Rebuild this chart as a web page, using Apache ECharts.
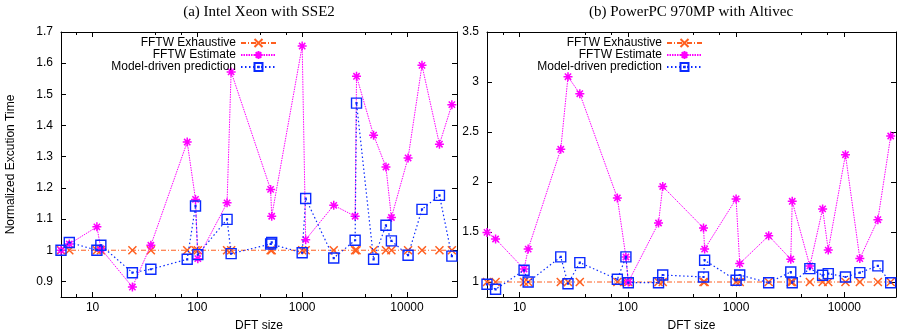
<!DOCTYPE html>
<html>
<head>
<meta charset="utf-8">
<script src="https://cdn.jsdelivr.net/npm/echarts@6/dist/echarts.min.js"></script>
<style>
  html, body { margin: 0; padding: 0; background: #fff; }
  #chart { width: 897px; height: 333px; }
</style>
</head>
<body>
<div id="chart"></div>
<script>
// (a) Intel Xeon with SSE2
const sizesA = [5, 6, 11, 12, 24, 36, 80, 96, 101, 192, 210, 500, 512, 1000, 1080, 2000, 3200, 3300, 4800, 6300, 7100, 10240, 13900, 20400, 26800];
const exhaustiveA = [1, 1, 1, 1, 1, 1, 1, 1, 1, 1, 1, 1, 1, 1, 1, 1, 1, 1, 1, 1, 1, 1, 1, 1, 1];
const estimateA = [1.0, 1.02, 1.075, 1.005, 0.882, 1.016, 1.347, 1.163, 0.973, 1.152, 1.572, 1.195, 1.109, 1.655, 1.034, 1.144, 1.109, 1.558, 1.369, 1.267, 1.105, 1.296, 1.593, 1.34, 1.467];
const modelA = [1.0, 1.025, 1.0, 1.016, 0.928, 0.939, 0.971, 1.142, 0.986, 1.099, 0.989, 1.02, 1.025, 0.992, 1.166, 0.975, 1.032, 1.472, 0.971, 1.08, 1.03, 0.984, 1.131, 1.176, 0.981];

// (b) PowerPC 970MP with Altivec
const sizesB = [5, 6, 11, 12, 24, 28, 36, 80, 96, 101, 192, 210, 500, 512, 1000, 1080, 2000, 3200, 3300, 4800, 6300, 7100, 10240, 13900, 20400, 26800];
const exhaustiveB = [1, 1, 1, 1, 1, 1, 1, 1, 1, 1, 1, 1, 1, 1, 1, 1, 1, 1, 1, 1, 1, 1, 1, 1, 1, 1];
const estimateB = [1.496, 1.43, 1.13, 1.329, 2.327, 3.053, 2.883, 1.841, 1.25, 1.0, 1.59, 1.955, 1.54, 1.329, 1.831, 1.184, 1.462, 1.228, 1.807, 1.161, 1.731, 1.319, 2.273, 1.234, 1.623, 2.46];
const modelB = [0.977, 0.927, 1.117, 1.0, 1.251, 0.983, 1.194, 1.027, 1.251, 0.993, 0.993, 1.07, 1.05, 1.218, 1.017, 1.07, 0.993, 1.10, 0.993, 1.134, 1.067, 1.084, 1.05, 1.094, 1.161, 0.993];

const seriesNames = ['FFTW Exhaustive', 'FFTW Estimate', 'Model-driven prediction'];

const ORANGE = '#ff5f1f';
const MAGENTA = '#ff00ff';
const BLUE = '#0a2aff';
const SANS = 'Liberation Sans, Arial, sans-serif';
const SERIF = 'Liberation Serif, Times New Roman, serif';

const symX = 'path://M0,0L10,10M10,0L0,10';
const symStar = 'path://M0,5L10,5M5,0L5,10M1.5,1.5L8.5,8.5M8.5,1.5L1.5,8.5';
const symBox = 'path://M0,0L10,0L10,10L0,10Z M4.6,4.6L5.4,4.6L5.4,5.4L4.6,5.4Z';

const pairs = (xs, ys) => xs.map((x, i) => [x, ys[i]]);

const chart = echarts.init(document.getElementById('chart'));

const makeXAxis = (gridIndex, top) => ({
  type: 'log',
  logBase: 10,
  gridIndex,
  position: top ? 'top' : 'bottom',
  min: 5,
  max: 30000,
  name: top ? '' : 'DFT size',
  nameLocation: 'middle',
  nameGap: 23,
  nameTextStyle: { fontFamily: SANS, fontSize: 12, color: '#000' },
  axisLine: { show: true, lineStyle: { color: '#000', width: 1 } },
  axisTick: { show: true, inside: true, length: 5, lineStyle: { color: '#000' } },
  minorTick: { show: true, splitNumber: 3, length: 3, lineStyle: { color: '#000' } },
  axisLabel: {
    show: !top,
    fontFamily: SANS,
    fontSize: 12,
    color: '#000',
    margin: 5,
    showMinLabel: false,
    showMaxLabel: false,
    formatter: v => String(Math.round(v))
  },
  splitLine: { show: false },
  minorSplitLine: { show: false }
});

const makeYAxis = (gridIndex, right, min, max, splitNumber, name) => ({
  type: 'value',
  gridIndex,
  position: right ? 'right' : 'left',
  min,
  max,
  splitNumber,
  name: right ? '' : name,
  nameLocation: 'middle',
  nameRotate: 90,
  nameGap: 44,
  nameTextStyle: { fontFamily: SANS, fontSize: 12, color: '#000' },
  axisLine: { show: true, lineStyle: { color: '#000', width: 1 } },
  axisTick: { show: true, inside: true, length: 5, lineStyle: { color: '#000' } },
  axisLabel: {
    show: !right,
    fontFamily: SANS,
    fontSize: 12,
    color: '#000',
    margin: 8,
    showMinLabel: false
  },
  splitLine: { show: false }
});

const makeSeries = (xIdx, yIdx, sizes, exh, est, mod) => [
  {
    name: seriesNames[0],
    type: 'line',
    xAxisIndex: xIdx,
    yAxisIndex: yIdx,
    data: pairs(sizes, exh),
    symbol: symX,
    symbolSize: 8,
    clip: false,
    lineStyle: { color: ORANGE, width: 1, type: [5, 2, 1, 2] },
    itemStyle: { color: 'rgba(0,0,0,0)', borderColor: ORANGE, borderWidth: 1.5 },
    emphasis: { disabled: true },
    z: 2
  },
  {
    name: seriesNames[1],
    type: 'line',
    xAxisIndex: xIdx,
    yAxisIndex: yIdx,
    data: pairs(sizes, est),
    symbol: symStar,
    symbolSize: 9,
    clip: false,
    lineStyle: { color: MAGENTA, width: 1, type: [1.5, 1] },
    itemStyle: { color: 'rgba(0,0,0,0)', borderColor: MAGENTA, borderWidth: 1.5 },
    emphasis: { disabled: true },
    z: 3
  },
  {
    name: seriesNames[2],
    type: 'line',
    xAxisIndex: xIdx,
    yAxisIndex: yIdx,
    data: pairs(sizes, mod),
    symbol: symBox,
    symbolSize: 10,
    clip: false,
    lineStyle: { color: BLUE, width: 1.2, type: [1.5, 2.5] },
    itemStyle: { color: 'rgba(0,0,0,0)', borderColor: BLUE, borderWidth: 1.4 },
    emphasis: { disabled: true },
    z: 4
  }
];

const makeLegends = (right) => seriesNames.map((n, i) => ({
  data: [n],
  orient: 'vertical',
  align: 'right',
  right,
  top: 37 + i * 12,
  padding: 0,
  itemWidth: 35,
  itemHeight: 10,
  selectedMode: false,
  textStyle: { fontFamily: SANS, fontSize: 12, color: '#000' }
}));

chart.setOption({
  animation: false,
  backgroundColor: '#fff',
  title: [
    {
      text: '(a) Intel Xeon with SSE2',
      left: 259, top: 5, padding: 0, textAlign: 'center',
      textStyle: { fontFamily: SERIF, fontSize: 15, fontWeight: 'normal', color: '#000' }
    },
    {
      text: '(b) PowerPC 970MP with Altivec',
      left: 691, top: 5, padding: 0, textAlign: 'center',
      textStyle: { fontFamily: SERIF, fontSize: 15, fontWeight: 'normal', color: '#000' }
    }
  ],
  legend: [...makeLegends(620), ...makeLegends(194)],
  grid: [
    { left: 61, top: 32, width: 396, height: 265, outerBoundsMode: 'none', containLabel: false },
    { left: 487, top: 32, width: 409, height: 265, outerBoundsMode: 'none', containLabel: false }
  ],
  xAxis: [
    makeXAxis(0, false), makeXAxis(0, true),
    makeXAxis(1, false), makeXAxis(1, true)
  ],
  yAxis: [
    makeYAxis(0, false, 0.85, 1.7, 8, 'Normalized Excution Time'),
    makeYAxis(0, true, 0.85, 1.7, 8, ''),
    makeYAxis(1, false, 0.85, 3.5, 5, ''),
    makeYAxis(1, true, 0.85, 3.5, 5, '')
  ],
  series: [
    ...makeSeries(0, 0, sizesA, exhaustiveA, estimateA, modelA),
    ...makeSeries(2, 2, sizesB, exhaustiveB, estimateB, modelB)
  ]
});
</script>
</body>
</html>
